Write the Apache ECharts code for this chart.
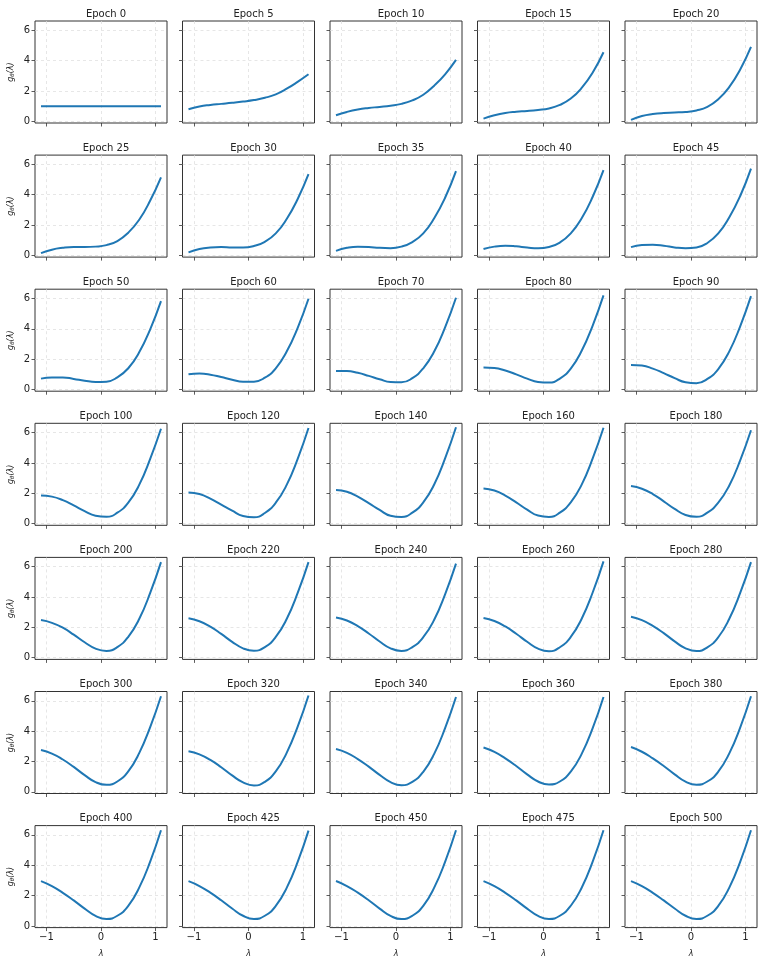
<!DOCTYPE html>
<html>
<head>
<meta charset="UTF-8">
<title>g_theta per epoch</title>
<script src="https://cdn.jsdelivr.net/npm/echarts@6.0.0/dist/echarts.min.js"></script>
<style>
  html, body { margin: 0; padding: 0; background: #fff; }
  #main { width: 765px; height: 963px; }
</style>
</head>
<body>
<div id="main"></div>
<script>
// lambda sample points (x)
var lam = [-1.1, -0.9, -0.7, -0.5, -0.3, -0.1, 0.1, 0.3, 0.5, 0.7, 0.9, 1.1];

var epochs = [0, 5, 10, 15, 20, 25, 30, 35, 40, 45, 50, 60, 70, 80, 90,
              100, 120, 140, 160, 180, 200, 220, 240, 260, 280,
              300, 320, 340, 360, 380, 400, 425, 450, 475, 500];

// g_theta(lambda)
var g0   = [1, 1, 1, 1, 1, 1, 1, 1, 1, 1, 1, 1];
var g5   = [0.8, 0.98, 1.08, 1.15, 1.22, 1.3, 1.4, 1.55, 1.78, 2.15, 2.6, 3.1];
var g10  = [0.4, 0.62, 0.78, 0.88, 0.95, 1.03, 1.15, 1.38, 1.75, 2.35, 3.1, 4.05];
var g15  = [0.18, 0.4, 0.55, 0.63, 0.68, 0.75, 0.85, 1.08, 1.5, 2.2, 3.2, 4.55];
var g20  = [0.1, 0.35, 0.48, 0.55, 0.58, 0.62, 0.72, 0.95, 1.45, 2.25, 3.4, 4.9];
var g25  = [0.15, 0.38, 0.5, 0.55, 0.55, 0.58, 0.68, 0.95, 1.5, 2.35, 3.6, 5.15];
var g30  = [0.2, 0.42, 0.52, 0.55, 0.52, 0.52, 0.62, 0.9, 1.45, 2.4, 3.7, 5.35];
var g35  = [0.3, 0.5, 0.58, 0.56, 0.5, 0.48, 0.58, 0.88, 1.45, 2.45, 3.8, 5.55];
var g40  = [0.42, 0.58, 0.64, 0.6, 0.52, 0.47, 0.55, 0.85, 1.45, 2.45, 3.85, 5.62];
var g45  = [0.55, 0.68, 0.7, 0.64, 0.53, 0.47, 0.52, 0.82, 1.45, 2.5, 3.9, 5.72];
var g50  = [0.72, 0.8, 0.8, 0.7, 0.58, 0.5, 0.52, 0.8, 1.4, 2.45, 3.95, 5.82];
var g60  = [1.0, 1.05, 0.98, 0.82, 0.65, 0.52, 0.52, 0.78, 1.4, 2.5, 4.05, 5.98];
var g70  = [1.22, 1.22, 1.1, 0.9, 0.68, 0.5, 0.48, 0.75, 1.4, 2.5, 4.1, 6.05];
var g80  = [1.45, 1.42, 1.25, 1.0, 0.72, 0.5, 0.46, 0.72, 1.38, 2.55, 4.2, 6.2];
var g90  = [1.62, 1.58, 1.38, 1.08, 0.75, 0.48, 0.42, 0.7, 1.35, 2.5, 4.15, 6.15];
var g100 = [1.85, 1.78, 1.55, 1.2, 0.82, 0.52, 0.45, 0.72, 1.38, 2.55, 4.25, 6.25];
var g120 = [2.05, 1.95, 1.65, 1.25, 0.85, 0.5, 0.42, 0.7, 1.38, 2.55, 4.25, 6.3];
var g140 = [2.22, 2.1, 1.78, 1.35, 0.9, 0.52, 0.44, 0.72, 1.4, 2.58, 4.3, 6.35];
var g160 = [2.32, 2.18, 1.85, 1.4, 0.92, 0.53, 0.44, 0.72, 1.4, 2.57, 4.28, 6.32];
var g180 = [2.48, 2.3, 1.95, 1.47, 0.97, 0.57, 0.45, 0.72, 1.38, 2.5, 4.15, 6.15];
var g200 = [2.48, 2.3, 1.98, 1.52, 1.02, 0.6, 0.45, 0.7, 1.38, 2.55, 4.25, 6.3];
var g220 = [2.6, 2.4, 2.05, 1.57, 1.05, 0.62, 0.46, 0.7, 1.37, 2.55, 4.25, 6.3];
var g240 = [2.65, 2.45, 2.08, 1.6, 1.07, 0.62, 0.45, 0.7, 1.35, 2.5, 4.18, 6.2];
var g260 = [2.62, 2.42, 2.06, 1.58, 1.05, 0.6, 0.43, 0.69, 1.37, 2.57, 4.28, 6.35];
var g280 = [2.7, 2.48, 2.1, 1.62, 1.08, 0.62, 0.44, 0.68, 1.35, 2.55, 4.25, 6.3];
var g300 = [2.75, 2.52, 2.13, 1.64, 1.1, 0.64, 0.46, 0.68, 1.35, 2.55, 4.25, 6.3];
var g320 = [2.68, 2.47, 2.1, 1.62, 1.08, 0.62, 0.42, 0.66, 1.35, 2.57, 4.28, 6.35];
var g340 = [2.82, 2.57, 2.16, 1.66, 1.12, 0.64, 0.44, 0.66, 1.32, 2.5, 4.2, 6.25];
var g360 = [2.92, 2.63, 2.2, 1.7, 1.15, 0.68, 0.48, 0.68, 1.33, 2.5, 4.18, 6.25];
var g380 = [2.95, 2.64, 2.2, 1.7, 1.15, 0.67, 0.47, 0.68, 1.33, 2.52, 4.22, 6.3];
var g400 = [2.95, 2.62, 2.18, 1.68, 1.14, 0.66, 0.46, 0.67, 1.32, 2.52, 4.22, 6.3];
var g425 = [2.95, 2.63, 2.19, 1.69, 1.15, 0.67, 0.46, 0.67, 1.32, 2.51, 4.2, 6.28];
var g450 = [2.96, 2.63, 2.19, 1.69, 1.14, 0.66, 0.45, 0.67, 1.32, 2.52, 4.22, 6.3];
var g475 = [2.95, 2.62, 2.18, 1.68, 1.14, 0.66, 0.46, 0.67, 1.33, 2.52, 4.22, 6.3];
var g500 = [2.95, 2.62, 2.18, 1.68, 1.15, 0.67, 0.46, 0.67, 1.32, 2.51, 4.21, 6.3];

var curves = [g0, g5, g10, g15, g20, g25, g30, g35, g40, g45, g50, g60, g70, g80, g90,
              g100, g120, g140, g160, g180, g200, g220, g240, g260, g280,
              g300, g320, g340, g360, g380, g400, g425, g450, g475, g500];

var xTicks = [-1, 0, 1];
var yTicks = [0, 2, 4, 6];

function buildOption() {
    var nCols = 5, nRows = 7;
    var left0 = 35, colStep = 147.5, gw = 132;
    var top0 = 21, rowStep = 134.1, gh = 102;
    var fam = 'DejaVu Sans';
    var minus = function (v) { return String(v).replace('-', '\u2212'); };
    var splitStyle = function () { return { color: '#dcdcdc', type: [3, 3], width: 0.7 }; };

    var option = { animation: false, backgroundColor: '#fff',
                   title: [], grid: [], xAxis: [], yAxis: [], series: [] };

    for (var i = 0; i < curves.length; i++) {
        var row = Math.floor(i / nCols), col = i % nCols;
        var gx = left0 + col * colStep;
        var gy = top0 + row * rowStep;
        var bottomRow = row === nRows - 1;
        var firstCol = col === 0;

        option.title.push({
            text: 'Epoch ' + epochs[i],
            left: gx + gw / 2, top: gy - 17, textAlign: 'center',
            textStyle: { fontFamily: fam, fontSize: 10, fontWeight: 'normal', color: '#222' }
        });

        option.grid.push({
            left: gx, top: gy, width: gw, height: gh,
            show: true, borderColor: '#333', borderWidth: 1,
            containLabel: false, outerBoundsMode: 'none'
        });

        option.xAxis.push({
            type: 'value', gridIndex: i, min: -1.21, max: 1.21,
            name: bottomRow ? '\u03bb' : '',
            nameLocation: 'middle', nameGap: 22,
            nameTextStyle: { fontFamily: fam, fontSize: 8, fontStyle: 'italic', color: '#222' },
            axisLine: { show: false, onZero: false },
            axisTick: { show: true, length: 3.5, customValues: xTicks.slice(),
                        lineStyle: { color: '#333', width: 0.8 } },
            axisLabel: { show: bottomRow, customValues: xTicks.slice(), margin: 5,
                         fontFamily: fam, fontSize: 10, color: '#222', formatter: minus },
            splitLine: { show: true, lineStyle: splitStyle() }
        });

        option.yAxis.push({
            type: 'value', gridIndex: i, min: -0.11, max: 6.61,
            name: firstCol ? '{g|g}{s|\u03b8}{g|(\u03bb)}' : '',
            nameLocation: 'middle', nameGap: 19, nameRotate: 90,
            nameTextStyle: {
                color: '#222',
                rich: {
                    g: { fontFamily: fam, fontSize: 8, fontStyle: 'italic', color: '#222' },
                    s: { fontFamily: fam, fontSize: 5.5, fontStyle: 'italic', color: '#222',
                         padding: [4, 0, 0, 0] }
                }
            },
            axisLine: { show: false, onZero: false },
            axisTick: { show: true, length: 3.5, customValues: yTicks.slice(),
                        lineStyle: { color: '#333', width: 0.8 } },
            axisLabel: { show: firstCol, customValues: yTicks.slice(), margin: 5,
                         fontFamily: fam, fontSize: 10, color: '#222' },
            splitLine: { show: true, lineStyle: splitStyle() }
        });

        var pts = [];
        for (var k = 0; k < lam.length; k++) pts.push([lam[k], curves[i][k]]);

        option.series.push({
            type: 'line', xAxisIndex: i, yAxisIndex: i,
            data: pts, smooth: 0.5, showSymbol: false,
            lineStyle: { color: '#1f77b4', width: 2 },
            itemStyle: { color: '#1f77b4' }
        });
    }
    return option;
}

var myChart = echarts.init(document.getElementById('main'));
myChart.setOption(buildOption());
</script>
</body>
</html>
